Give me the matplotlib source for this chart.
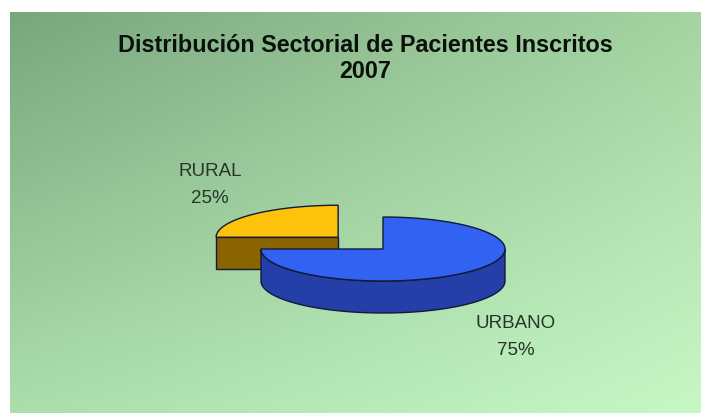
import numpy as np
import matplotlib
matplotlib.use("Agg")
import matplotlib.pyplot as plt
from matplotlib.patches import Polygon

# ---- data ----
categories = ["RURAL", "URBANO"]
values = [25, 75]
explode = [0.52, 0.0]
title_lines = ["Distribución Sectorial de Pacientes Inscritos", "2007"]

# ---- style ----
top_colors = ["#FDC20A", "#3262F2"]
side_colors = ["#8A6400", "#2440A8"]
edge_color = "#14183a"
W, H = 701, 414

fig = plt.figure(figsize=(W / 100, H / 100), dpi=100)
fig.patch.set_facecolor("white")
ax = fig.add_axes([0, 0, 1, 1])
ax.axis("off")

# gradient panel
px0, py0 = 10, 13
c_tl = np.array([122, 166, 126]) / 255
c_tr = np.array([165, 212, 162]) / 255
c_bl = np.array([172, 222, 172]) / 255
c_br = np.array([198, 248, 198]) / 255
ny, nx = 100, 160
u = np.linspace(0, 1, nx)[None, :, None]
v = np.linspace(0, 1, ny)[:, None, None]
img = (c_tl * (1 - u) * (1 - v) + c_tr * u * (1 - v) + c_bl * (1 - u) * v + c_br * u * v)
ax.imshow(img, extent=[px0, W, H, py0], aspect="auto", zorder=0, interpolation="bilinear")
ax.set_xlim(0, W)
ax.set_ylim(H, 0)

# title
for txt, ty in zip(title_lines, (45, 72)):
    ax.text(365, ty, txt, ha="center", va="center", fontsize=16.8,
            fontweight="bold", family="Liberation Sans", color="#0a100a", zorder=5)

# 3D pie geometry (layout)
cx, cy = 383, 250
a, b = 122, 32
depth = 32
start = 90.0

total = float(sum(values))
angles = []
ang = start
for val in values:
    span = 360.0 * val / total
    angles.append((ang, ang + span))
    ang += span


def pt(x0, y0, th, dz=0.0):
    t = np.deg2rad(th)
    return (x0 + a * np.cos(t), y0 - b * np.sin(t) + dz)


slices = []
for i, (t0, t1) in enumerate(angles):
    mid = np.deg2rad((t0 + t1) / 2)
    ox = cx + explode[i] * a * np.cos(mid)
    oy = cy - explode[i] * b * np.sin(mid)
    slices.append((i, t0, t1, ox, oy))

# draw back slices first
slices.sort(key=lambda s: s[4])
z = 2
for i, t0, t1, ox, oy in slices:
    # radial faces facing the viewer
    for th, sgn in ((t0, -1), (t1, 1)):
        n = np.deg2rad(th + 90 * sgn)
        if np.sin(n) < -1e-3:
            p = pt(ox, oy, th)
            poly = [(ox, oy), p, (p[0], p[1] + depth), (ox, oy + depth)]
            ax.add_patch(Polygon(poly, closed=True, fc=side_colors[i], ec=edge_color, lw=1.0, zorder=z))
    # outer curved side (front half)
    ths = np.linspace(t0, t1, 300)
    front = [th for th in ths if np.sin(np.deg2rad(th)) < 0]
    if len(front) > 1:
        top = [pt(ox, oy, th) for th in front]
        bot = [pt(ox, oy, th, depth) for th in front[::-1]]
        ax.add_patch(Polygon(top + bot, closed=True, fc=side_colors[i], ec=edge_color, lw=1.0, zorder=z))
    # top face
    poly = [(ox, oy)] + [pt(ox, oy, th) for th in ths]
    ax.add_patch(Polygon(poly, closed=True, fc=top_colors[i], ec=edge_color, lw=1.0, zorder=z + 0.5))
    z += 1

# labels
lab_pos = {"RURAL": (210, 185), "URBANO": (516, 337)}
for cat, val in zip(categories, values):
    x, y = lab_pos[cat]
    ax.text(x, y, f"{cat}\n{val}%", ha="center", va="center", fontsize=13.5,
            family="Liberation Sans", color="#263626", linespacing=1.7, zorder=5)

fig.savefig("out.png", dpi=100)
